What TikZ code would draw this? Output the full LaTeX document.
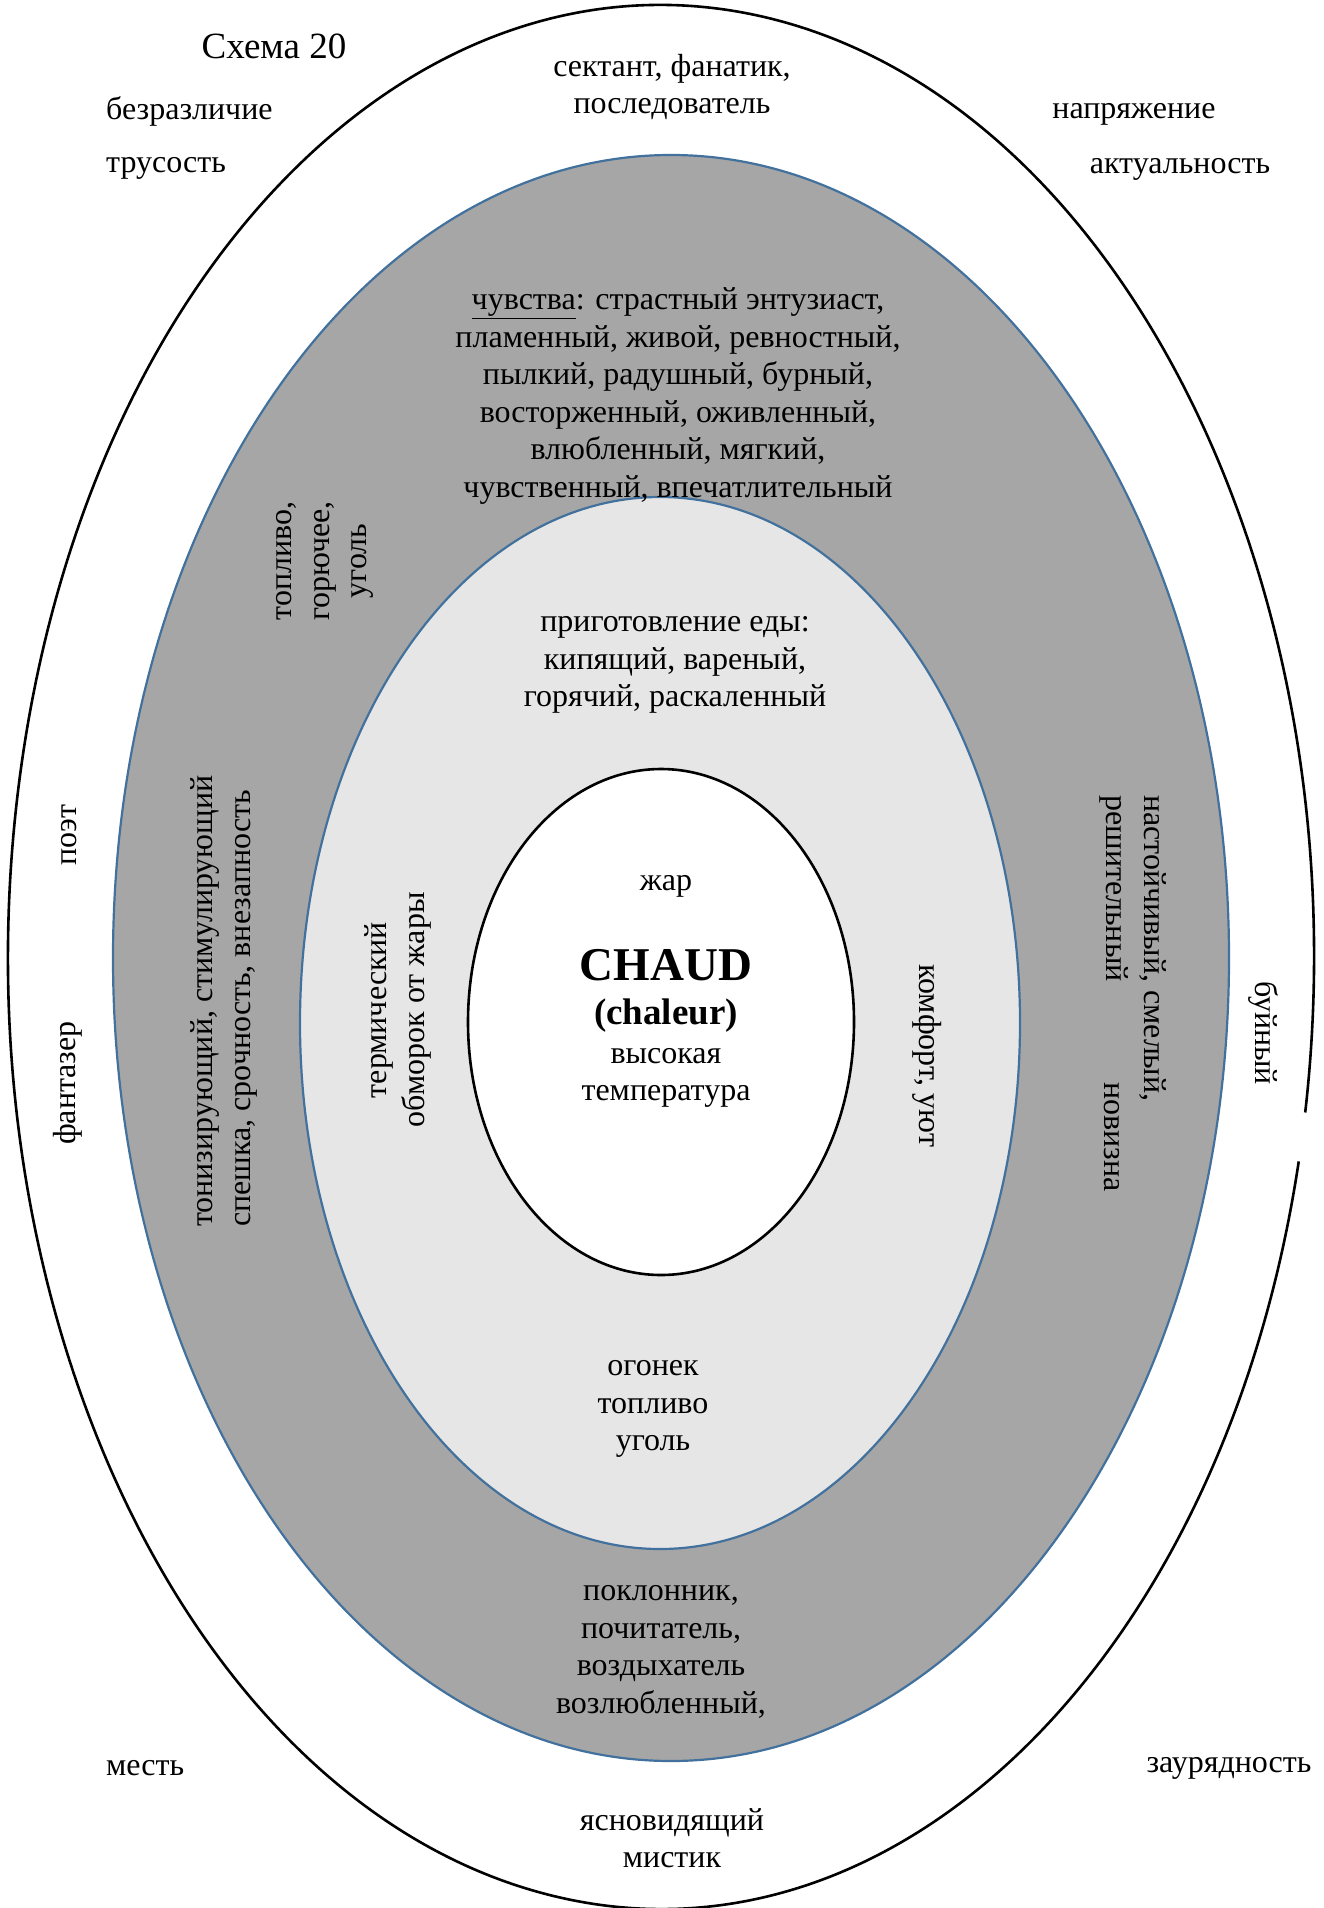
\documentclass[tikz,border=0pt]{standalone}
\usepackage{fontspec}
\setmainfont{Liberation Serif}
\definecolor{ringdark}{HTML}{A6A6A6}
\definecolor{ringlight}{HTML}{E6E6E6}
\definecolor{ringedge}{HTML}{41719C}
\tikzset{
  lbl/.style={font=\fontsize{32}{37.5}\selectfont, align=center, inner sep=0pt},
  lblleft/.style={lbl, align=left},
  upward/.style={rotate=90},
  downward/.style={rotate=-90},
  blackline/.style={draw=black, line width=2.6pt},
  blueline/.style={draw=ringedge, line width=2.2pt}
}
\begin{document}
\begin{tikzpicture}[x=1pt,y=1pt]
\useasboundingbox (0,0) rectangle (1324,-1908);
\fill[white] (0,0) rectangle (1324,-1908);

% outer ring, open on the right-hand side
\draw[blackline] ([shift={(-9.4:653 and 952)}]661,-957)
  arc[start angle=-9.4, end angle=347.6, x radius=653, y radius=952];

% dark ring, light ring, core
\filldraw[fill=ringdark, blueline] (671,-958) ellipse[x radius=558, y radius=803];
\filldraw[fill=ringlight, blueline] (660,-1023) ellipse[x radius=360, y radius=526];
\filldraw[fill=white, blackline] (661,-1022) ellipse[x radius=193, y radius=253];

% outer zone
\node[lbl, font=\fontsize{37}{40}\selectfont] (title) at (274,-46) {Схема 20};
\node[lbl] (sect) at (672,-87) {сектант, фанатик,\\последователь};
\node[lbl, anchor=west] (indiff) at (106,-111) {безразличие};
\node[lbl, anchor=west] (coward) at (106,-168) {трусость};
\node[lbl] (tension) at (1134,-114) {напряжение};
\node[lbl] (actual) at (1180,-169) {актуальность};
\node[lbl, upward] (poet) at (69,-835) {поэт};
\node[lbl, upward] (dreamer) at (68,-1083) {фантазер};
\node[lbl, downward] (wild) at (1263,-1033) {буйный};
\node[lbl, anchor=west] (revenge) at (106,-1768) {месть};
\node[lbl] (ordinary) at (1229,-1768) {заурядность};
\node[lbl] (seer) at (672,-1838) {ясновидящий\\мистик};

% dark ring
\node[lbl] (feel) at (678,-396) {\underline{чувства}: страстный энтузиаст,\\
  пламенный, живой, ревностный,\\пылкий, радушный, бурный,\\
  восторженный, оживленный,\\влюбленный, мягкий,\\
  чувственный, впечатлительный};
\node[lbl, upward] (fuel) at (325,-561) {топливо,\\горючее,\\уголь};
\node[lblleft, upward, anchor=west] (tonic) at (224,-1227)
  {тонизирующий, стимулирующий\\спешка, срочность, внезапность};
\node[lblleft, downward, anchor=west] (insist) at (1133,-795)
  {настойчивый, смелый,\\решительный};
\node[lbl, downward, anchor=west] (novel) at (1112,-1082) {новизна};
\node[lbl] (admirer) at (661,-1652) {поклонник,\\почитатель,\\воздыхатель\\возлюбленный,};

% light ring
\node[lbl] (cook) at (675,-665) {приготовление еды:\\кипящий, вареный,\\горячий, раскаленный};
\node[lbl, upward] (faint) at (398,-1010) {термический\\обморок от жары};
\node[lbl, downward] (comfort) at (927,-1056) {комфорт, уют};
\node[lbl] (spark) at (653,-1409) {огонек\\топливо\\уголь};

% core
\node[lbl] (heat) at (666,-886) {жар};
\node[lbl, font=\fontsize{47}{50}\selectfont\bfseries] (chaud) at (666,-965) {CHAUD};
\node[lbl, font=\fontsize{37}{40}\selectfont\bfseries] (chaleur) at (666,-1016) {(chaleur)};
\node[lbl] (hightemp) at (666,-1078) {высокая\\температура};
\end{tikzpicture}
\end{document}
